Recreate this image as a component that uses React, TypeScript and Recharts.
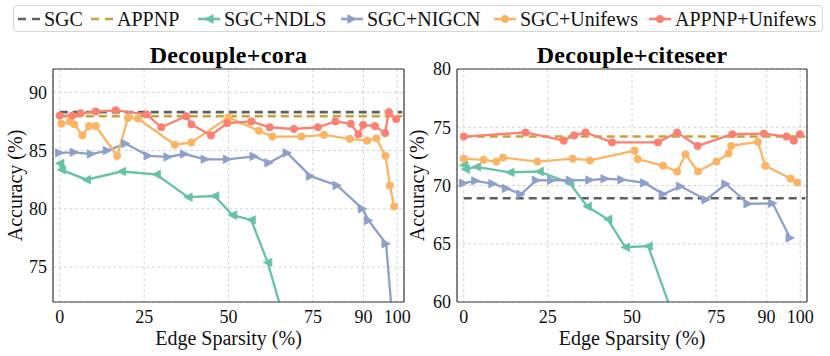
import React from 'react';
import { LineChart, Line, XAxis, YAxis, CartesianGrid, Legend, ReferenceLine } from 'recharts';

// ---------- data ----------
const xTicks = [0, 25, 50, 75, 90, 100];
const xDomain = [-2, 102];
const coraYTicks = [75, 80, 85, 90];
const citeseerYTicks = [60, 65, 70, 75, 80];
const baselineSpan = [0, 101.5];

const coraSGC = 88.3;
const coraAPPNP = 87.95;
const coraNDLS: number[][] = [
  [0, 83.9], [0.5, 83.35], [7.9, 82.5], [18.3, 83.2], [28.6, 82.95], [38, 81.0],
  [45.9, 81.1], [51.2, 79.45], [56.7, 79.05], [61.6, 75.4], [67, 70.0],
];
const coraNIGCN: number[][] = [
  [0, 84.8], [4.3, 84.85], [9.4, 84.7], [14.1, 85.0], [19.5, 85.6], [26.2, 84.55],
  [32.1, 84.45], [37, 84.7], [43.1, 84.25], [49.7, 84.25], [57.6, 84.5], [62, 83.95],
  [67.4, 84.8], [74.3, 82.8], [82.2, 82.0], [89.7, 80.0], [91.5, 79.0], [96.7, 77.0],
  [99, 69.0],
];
const coraSGCUnifews: number[][] = [
  [0.5, 87.3], [3.0, 87.5], [4.3, 87.25], [6.7, 86.3], [8.7, 87.1], [10.7, 87.1],
  [17, 84.55], [20.2, 87.8], [23.2, 87.75], [34.1, 85.5], [39, 85.7], [50, 87.85],
  [59, 86.7], [63, 86.2], [71.6, 86.2], [78.3, 86.35], [85.9, 86.0], [91.1, 85.85],
  [93.8, 86.05], [96.5, 84.55], [97.8, 82.0], [99.1, 80.2],
];
const coraAPPNPUnifews: number[][] = [
  [0, 88.0], [3.7, 88.0], [6.2, 88.2], [10.7, 88.35], [16.6, 88.45], [25.7, 88.1],
  [30.1, 87.0], [37.5, 87.95], [39, 87.25], [44.8, 86.3], [49.6, 87.35], [56.8, 87.5],
  [62.2, 87.0], [69.4, 86.85], [76.5, 87.0], [81.7, 87.5], [86.2, 87.3], [88.5, 86.4],
  [89.9, 87.2], [93.4, 87.1], [96.4, 86.5], [97.5, 88.3], [99.7, 87.7],
];

const citeSGC = 68.9;
const citeAPPNP = 74.2;
const citeNDLS: number[][] = [
  [0, 71.75], [0.5, 71.4], [3.8, 71.6], [13.7, 71.13], [22.4, 71.2], [31.5, 70.2],
  [36.7, 68.2], [42.8, 67.1], [48, 64.7], [54.8, 64.8], [62, 59.0],
];
const citeNIGCN: number[][] = [
  [0, 70.2], [3.6, 70.4], [8.7, 70.15], [12.7, 69.75], [17, 69.25], [21.6, 70.45],
  [26.1, 70.45], [31.7, 70.45], [37.5, 70.47], [42, 70.58], [47, 70.5], [53.8, 70.22],
  [59.3, 69.25], [64.4, 69.93], [72, 68.78], [77.9, 70.13], [84.5, 68.43], [91.8, 68.47],
  [97, 65.5],
];
const citeSGCUnifews: number[][] = [
  [0, 72.3], [5.9, 72.2], [9.7, 72.05], [11.7, 72.4], [21.9, 72.05], [32.4, 72.3],
  [37.5, 72.15], [50.8, 73.0], [51.7, 72.27], [59.2, 71.7], [63.4, 71.2], [65.9, 72.67],
  [69.6, 71.2], [75.1, 72.05], [78.7, 72.75], [79.5, 73.4], [87.4, 73.75], [89.6, 71.7],
  [97.1, 70.6], [99.1, 70.25],
];
const citeAPPNPUnifews: number[][] = [
  [0, 74.2], [18.4, 74.55], [29.7, 73.85], [32.8, 74.3], [36.2, 74.55], [44.1, 73.7],
  [57.7, 73.7], [63.4, 74.55], [69.5, 73.4], [79.8, 74.4], [89.2, 74.45], [95.9, 74.2],
  [98.1, 73.85], [99.9, 74.4],
];

// ---------- styles ----------
const FONT = '"Liberation Serif", "DejaVu Serif", "Noto Serif", serif';
const TEXT = '#111';
const SPINE = '#3a3a3a';
const LEGEND_ITEM_WIDTHS = [73, 107, 143, 153, 155, 165];

type Kind = 'none' | 'left' | 'right' | 'circle';
const SERIES = [
  { key: 'SGC', color: '#5f5f5f', dashed: true, kind: 'none' as Kind },
  { key: 'APPNP', color: '#c9a13a', dashed: true, kind: 'none' as Kind },
  { key: 'SGC+NDLS', color: '#66c2a5', dashed: false, kind: 'left' as Kind },
  { key: 'SGC+NIGCN', color: '#8da0cb', dashed: false, kind: 'right' as Kind },
  { key: 'SGC+Unifews', color: '#fdb462', dashed: false, kind: 'circle' as Kind },
  { key: 'APPNP+Unifews', color: '#fb8072', dashed: false, kind: 'circle' as Kind },
];

const toPts = (arr: number[][]) => arr.map(([x, y]) => ({ x, y }));
const flat = (v: number) => baselineSpan.map((x) => ({ x, y: v }));

function MarkerShape({ cx, cy, kind, color }: { cx: number; cy: number; kind: Kind; color: string }) {
  if (kind === 'circle') return <circle cx={cx} cy={cy} r={3.6} fill={color} stroke={color} />;
  const h = 4.2;
  if (kind === 'left') {
    return <polygon points={`${cx - h},${cy} ${cx + h},${cy - h} ${cx + h},${cy + h}`} fill={color} stroke={color} strokeWidth={0.8} />;
  }
  if (kind === 'right') {
    return <polygon points={`${cx + h},${cy} ${cx - h},${cy - h} ${cx - h},${cy + h}`} fill={color} stroke={color} strokeWidth={0.8} />;
  }
  return null;
}

const makeDot = (kind: Kind, color: string) => (props: any) => {
  const { cx, cy, index } = props;
  if (cx == null || cy == null || isNaN(cx) || isNaN(cy)) return <g key={`d${index}`} />;
  return (
    <g key={`d${index}`}>
      <MarkerShape cx={cx} cy={cy} kind={kind} color={color} />
    </g>
  );
};

function LegendBox() {
  return (
    <div
      style={{
        width: 810,
        height: 27,
        boxSizing: 'border-box',
        border: '1px solid #d6d6d6',
        borderRadius: 4,
        background: '#fff',
        display: 'flex',
        alignItems: 'center',
        paddingLeft: 3,
        fontFamily: FONT,
        fontSize: 20,
        color: TEXT,
        lineHeight: 1,
      }}
    >
      {SERIES.map((s, i) => (
        <div
          key={s.key}
          style={{ display: 'flex', alignItems: 'center', flex: 'none', width: LEGEND_ITEM_WIDTHS[i], whiteSpace: 'nowrap' }}
        >
          <svg width={24} height={14} style={{ marginRight: 3, overflow: 'visible', flex: 'none' }}>
            <line
              x1={1}
              x2={23}
              y1={7}
              y2={7}
              stroke={s.color}
              strokeWidth={2.6}
              strokeDasharray={s.dashed ? '8 6' : undefined}
            />
            <MarkerShape cx={12} cy={7} kind={s.kind} color={s.color} />
          </svg>
          <span>{s.key}</span>
        </div>
      ))}
    </div>
  );
}

interface PanelProps {
  title: string;
  yDomain: number[];
  yTicks: number[];
  sgc: number;
  appnp: number;
  ndls: number[][];
  nigcn: number[][];
  sgcU: number[][];
  appnpU: number[][];
  chartWidth: number;
  yAxisWidth: number;
  marginRight: number;
  yLabelOffset: number;
  withLegend: boolean;
}

function Panel(p: PanelProps) {
  const seriesData = [flat(p.sgc), flat(p.appnp), toPts(p.ndls), toPts(p.nigcn), toPts(p.sgcU), toPts(p.appnpU)];
  const tickStyle = { fill: TEXT, fontSize: 18, fontFamily: FONT };
  return (
    <LineChart width={p.chartWidth} height={356} margin={{ top: 69, right: p.marginRight, bottom: 0, left: 0 }}>
      <CartesianGrid stroke="#c9c9c9" strokeWidth={0.8} strokeDasharray="3 2.5" />
      <XAxis
        type="number"
        dataKey="x"
        domain={xDomain}
        ticks={xTicks}
        interval={0}
        allowDataOverflow
        height={54}
        tickLine={false}
        tickSize={0}
        tickMargin={8}
        axisLine={{ stroke: SPINE, strokeWidth: 1.2 }}
        tick={tickStyle}
        label={{
          value: 'Edge Sparsity (%)',
          position: 'insideBottom',
          offset: 11,
          style: { fill: TEXT, fontSize: 20, fontFamily: FONT },
        }}
      />
      <YAxis
        type="number"
        domain={p.yDomain}
        ticks={p.yTicks}
        interval={0}
        allowDataOverflow
        width={p.yAxisWidth}
        tickLine={false}
        tickSize={0}
        tickMargin={6}
        axisLine={{ stroke: SPINE, strokeWidth: 1.2 }}
        tick={tickStyle}
        label={{
          value: 'Accuracy (%)',
          angle: -90,
          position: 'insideLeft',
          offset: p.yLabelOffset,
          style: { fill: TEXT, fontSize: 20, fontFamily: FONT, textAnchor: 'middle' },
        }}
      />
      {SERIES.map((s, i) => (
        <Line
          key={s.key}
          name={s.key}
          data={seriesData[i]}
          dataKey="y"
          type="linear"
          stroke={s.color}
          strokeWidth={s.dashed ? 2.6 : 2.3}
          strokeDasharray={s.dashed ? '8 5' : undefined}
          dot={s.kind === 'none' ? false : makeDot(s.kind, s.color)}
          activeDot={false}
          isAnimationActive={false}
          legendType="line"
        />
      ))}
      <ReferenceLine
        y={p.yDomain[1]}
        stroke={SPINE}
        strokeWidth={1.2}
        ifOverflow="visible"
        label={{
          value: p.title,
          position: 'top',
          offset: 6,
          style: { fill: '#000', fontSize: 24, fontWeight: 'bold', fontFamily: FONT, letterSpacing: 0.3 },
        }}
      />
      <ReferenceLine x={xDomain[1]} stroke={SPINE} strokeWidth={1.2} ifOverflow="visible" />
      {p.withLegend && (
        <Legend
          layout="horizontal"
          verticalAlign="middle"
          align="center"
          width={810}
          wrapperStyle={{ top: 5, left: 13, width: 810, height: 27 }}
          content={() => <LegendBox />}
        />
      )}
    </LineChart>
  );
}

export default function App() {
  return (
    <div style={{ position: 'absolute', left: 0, top: 0, width: 830, height: 356, background: '#fff' }}>
      <div style={{ position: 'absolute', left: 0, top: 0 }}>
        <Panel
          title="Decouple+cora"
          yDomain={[72, 92]}
          yTicks={coraYTicks}
          sgc={coraSGC}
          appnp={coraAPPNP}
          ndls={coraNDLS}
          nigcn={coraNIGCN}
          sgcU={coraSGCUnifews}
          appnpU={coraAPPNPUnifews}
          chartWidth={415}
          yAxisWidth={53}
          marginRight={11}
          yLabelOffset={15}
          withLegend={true}
        />
      </div>
      <div style={{ position: 'absolute', left: 400, top: 0 }}>
        <Panel
          title="Decouple+citeseer"
          yDomain={[60, 80]}
          yTicks={citeseerYTicks}
          sgc={citeSGC}
          appnp={citeAPPNP}
          ndls={citeNDLS}
          nigcn={citeNIGCN}
          sgcU={citeSGCUnifews}
          appnpU={citeAPPNPUnifews}
          chartWidth={430}
          yAxisWidth={57}
          marginRight={23}
          yLabelOffset={17}
          withLegend={false}
        />
      </div>
    </div>
  );
}
